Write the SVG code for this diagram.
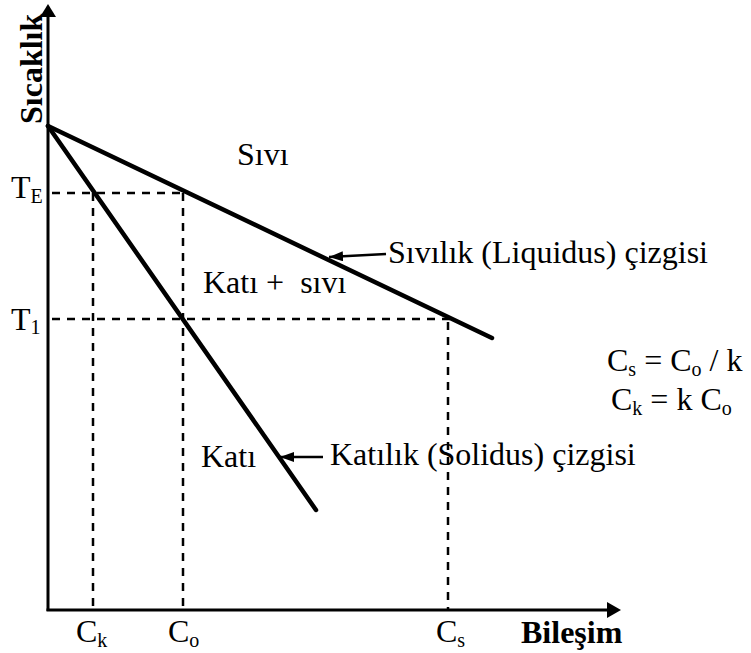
<svg xmlns="http://www.w3.org/2000/svg" width="751" height="653" viewBox="0 0 751 653">
<style>
.t{font-family:"Liberation Serif","Times New Roman",serif;font-size:32px;fill:#000}
.b{font-weight:bold}
.sub{font-size:20px}
.ax{stroke:#000;stroke-width:3;fill:none}
.cv{stroke:#000;stroke-width:4.5;fill:none;stroke-linecap:round}
.dash{stroke:#000;stroke-width:2.5;stroke-dasharray:8 7;fill:none}
.ar{stroke:#000;stroke-width:2.5;fill:none}
</style>
<defs>
<marker id="ah" viewBox="0 0 14 10" refX="14" refY="5" markerWidth="14" markerHeight="10" markerUnits="userSpaceOnUse" orient="auto">
<path d="M0,0 L14,5 L0,10 Z" fill="#000"/>
</marker>
</defs>
<g id="connectors">
<g id="axes">
<line class="ax" x1="48" y1="611" x2="48" y2="14"/>
<polygon points="48,4 40,17 56,17" fill="#000"/>
<line class="ax" x1="46.5" y1="610" x2="610" y2="610"/>
<polygon points="621,610 607,602 607,618" fill="#000"/>
</g>
<g id="guides">
<line class="dash" x1="52" y1="193" x2="183" y2="193"/>
<line class="dash" x1="52" y1="319" x2="450" y2="319"/>
<line class="dash" x1="93" y1="193" x2="93" y2="610"/>
<line class="dash" x1="183" y1="193" x2="183" y2="610"/>
<line class="dash" x1="448" y1="322" x2="448" y2="610"/>
</g>
<g id="curves">
<line class="cv" x1="48" y1="126" x2="492" y2="338"/>
<line class="cv" x1="48" y1="126" x2="316" y2="510"/>
</g>
<g id="pointers">
<line class="ar" x1="386" y1="254" x2="329" y2="257" marker-end="url(#ah)"/>
<line class="ar" x1="323" y1="457" x2="280" y2="457" marker-end="url(#ah)"/>
</g>
</g>
<g id="axis-labels">
<text class="t b" transform="translate(42,124) rotate(-90)">Sıcaklık</text>
<text class="t b" x="521" y="643">Bileşim</text>
</g>
<g id="temp-labels">
<text class="t" x="11" y="198">T<tspan class="sub" dy="5">E</tspan></text>
<text class="t" x="11" y="330">T<tspan class="sub" dy="4">1</tspan></text>
</g>
<g id="comp-labels">
<text class="t" x="76" y="642">C<tspan class="sub" dy="5">k</tspan></text>
<text class="t" x="168" y="642">C<tspan class="sub" dy="5">o</tspan></text>
<text class="t" x="436" y="642">C<tspan class="sub" dy="5">s</tspan></text>
</g>
<g id="regions">
<text class="t" x="237" y="165">Sıvı</text>
<text class="t" x="203" y="293" xml:space="preserve">Katı +  sıvı</text>
<text class="t" x="201" y="467">Katı</text>
</g>
<g id="line-labels">
<text class="t" x="388" y="263">Sıvılık (Liquidus) çizgisi</text>
<text class="t" x="330" y="465">Katılık (Solidus) çizgisi</text>
</g>
<g id="formulas">
<text class="t" x="607" y="371">C<tspan class="sub" dy="5">s</tspan><tspan dy="-5"> = C</tspan><tspan class="sub" dy="5">o</tspan><tspan dy="-5"> / k</tspan></text>
<text class="t" x="611" y="410">C<tspan class="sub" dy="5">k</tspan><tspan dy="-5"> = k C</tspan><tspan class="sub" dy="5">o</tspan></text>
</g>
</svg>
